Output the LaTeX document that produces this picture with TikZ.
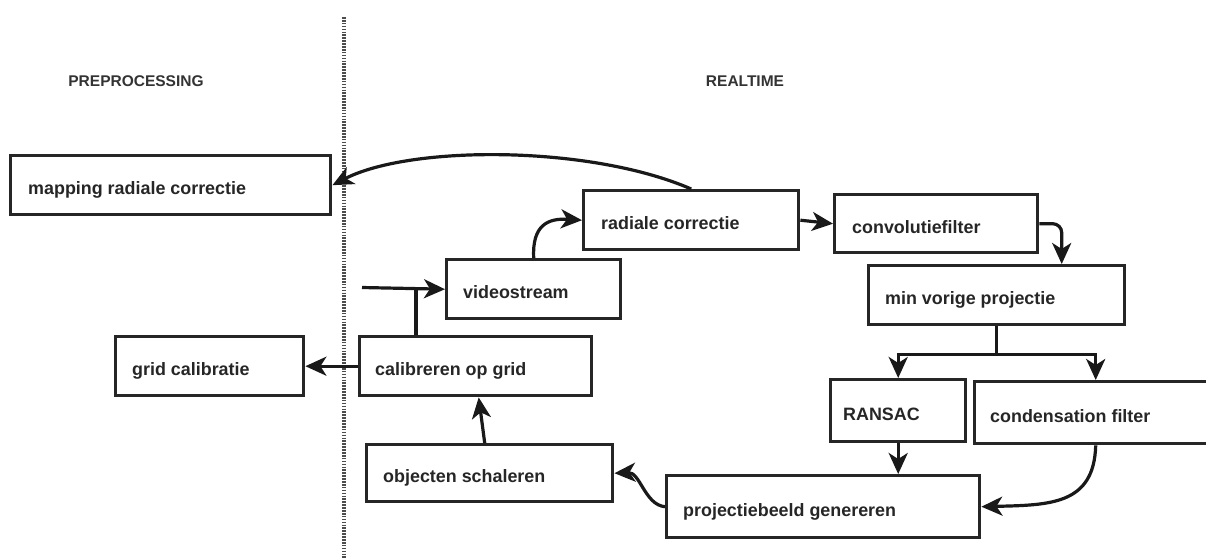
\documentclass[tikz,border=0pt]{standalone}
\usepackage{fontspec}
\setmainfont{Liberation Sans}
\usetikzlibrary{arrows.meta,calc}
\begin{document}
\begin{tikzpicture}[x=1pt,y=-1pt,
  box/.style={draw=black!85, line width=3.4pt, rectangle, inner sep=0pt, anchor=north west},
  lbl/.style={anchor=base west, font=\bfseries\fontsize{17.9}{19}\selectfont, text=black!85, inner sep=0pt},
  ttl/.style={font=\bfseries\fontsize{15.5}{17}\selectfont, text=black!80, inner sep=0pt},
  conn/.style={draw=black!90, line width=3.2pt, -{Stealth[length=21pt,width=19pt,inset=6pt]}},
  plainline/.style={draw=black!90, line width=3.2pt}]
\fill[white] (0,0) rectangle (1206,558);
\useasboundingbox (0,0) rectangle (1206,558);

% titles
\node[ttl] (tpre) at (136,81) {PREPROCESSING};
\node[ttl] (treal) at (745,81) {REALTIME};

% divider
\coordinate (dtop) at (344,17);
\coordinate (dbot) at (344,560);
\draw[black!70, line width=3.2pt, dash pattern=on 1.6pt off 1.3pt] (dtop) -- (dbot);

% boxes
\node[box, minimum width=320pt, minimum height=59pt] (map) at (9,154) {};
\node[box, minimum width=215pt, minimum height=59pt] (rad) at (582,189) {};
\node[box, minimum width=203pt, minimum height=58pt] (conv) at (833,193) {};
\node[box, minimum width=174pt, minimum height=59pt] (vid) at (445,258) {};
\node[box, minimum width=256pt, minimum height=59pt] (minv) at (867,264) {};
\node[box, minimum width=188pt, minimum height=59pt] (grid) at (114,335) {};
\node[box, minimum width=232pt, minimum height=59pt] (calib) at (358,335) {};
\node[box, minimum width=135pt, minimum height=62pt] (ransac) at (829,378) {};
\node[box, minimum width=242pt, minimum height=62pt] (cond) at (973,380) {};
\node[box, minimum width=246pt, minimum height=57pt] (obj) at (365,443) {};
\node[box, minimum width=313pt, minimum height=62pt] (proj) at (665,474) {};

% labels
\node[lbl] (lmap) at ($(map.west)+(19,9.5)$) {mapping radiale correctie};
\node[lbl] (lrad) at ($(rad.west)+(19,9.5)$) {radiale correctie};
\node[lbl] (lconv) at ($(conv.west)+(19,9.5)$) {convolutiefilter};
\node[lbl] (lvid) at ($(vid.west)+(18,9.5)$) {videostream};
\node[lbl] (lminv) at ($(minv.west)+(18,9.5)$) {min vorige projectie};
\node[lbl] (lgrid) at ($(grid.west)+(18,9.5)$) {grid calibratie};
\node[lbl] (lcalib) at ($(calib.west)+(17,9.5)$) {calibreren op grid};
\node[lbl] (lransac) at ($(ransac.west)+(14,9.5)$) {RANSAC};
\node[lbl] (lcond) at ($(cond.west)+(17,9.5)$) {condensation filter};
\node[lbl] (lobj) at ($(obj.west)+(18,9.5)$) {objecten schaleren};
\node[lbl] (lproj) at ($(proj.west)+(18,9.5)$) {projectiebeeld genereren};

% connectors
\draw[conn] (rad.north) .. controls (590,145) and (410,145) .. (map.east);
\draw[conn] (vid.north) .. controls (532,225) and (548,218) .. (rad.west);
\coordinate (in) at (362,287.5);
\draw[conn] (in) -- (vid.west);
\coordinate (cj) at ($(calib.north west)+(58,0)$);
\draw[plainline] (cj) -- (cj |- in);
\draw[conn] (calib.west) -- (grid.east);
\draw[conn] (rad.east) -- (conv.west);
\draw[conn, rounded corners=9pt] (conv.east) -| ($(minv.north)+(65,0)$);
\coordinate (fk) at ($(minv.south)+(0,28)$);
\draw[plainline] (minv.south) -- (fk);
\draw[conn] (fk) -| (ransac.north);
\draw[conn] (fk) -| (cond.north);
\draw[conn] (ransac.south) -- (ransac.south |- proj.north);
\draw[conn] (cond.south) .. controls (1094,505) and (1050,505) .. (proj.east);
\draw[conn] (proj.west) .. controls (645,505) and (640,472) .. (obj.east);
\draw[conn] ($(obj.north)+(-5,0)$) -- ($(calib.south)+(3,0)$);
\end{tikzpicture}
\end{document}
